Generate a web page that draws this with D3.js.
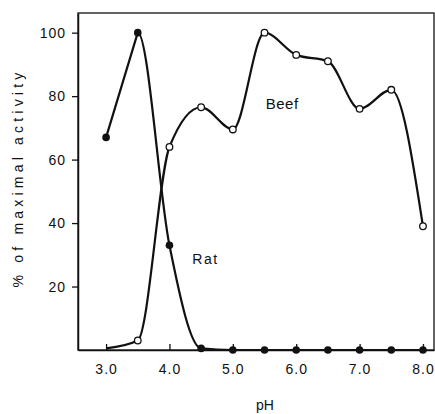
<!DOCTYPE html>
<html>
<head>
<meta charset="utf-8">
<script src="https://cdn.jsdelivr.net/npm/d3@7"></script>
<style>
  body { margin: 0; background: #fff; }
  text { font-family: "Liberation Sans", Arial, sans-serif; fill: #111; }
</style>
</head>
<body>
<div id="chart"></div>
<script>
// pH values measured
var phValues = [3.0, 3.5, 4.0, 4.5, 5.0, 5.5, 6.0, 6.5, 7.0, 7.5, 8.0];
// % of maximal activity
var ratActivity = [67, 100, 33, 0.5, 0, 0, 0, 0, 0, 0, 0];
var beefActivity = [0.5, 3, 64, 76.5, 69.5, 100, 93, 91, 76, 82, 39];
// axis ticks
var xTicks = [3.0, 4.0, 5.0, 6.0, 7.0, 8.0];
var yTicks = [20, 40, 60, 80, 100];

var svgWidth = 435;
var svgHeight = 414;
var margin = { top: 13, right: 1, bottom: 64, left: 78 };
var width = svgWidth - margin.left - margin.right;
var height = svgHeight - margin.top - margin.bottom;

var svg = d3.select("#chart")
  .append("svg")
  .attr("width", svgWidth)
  .attr("height", svgHeight);

var chartGroup = svg.append("g")
  .attr("transform", `translate(${margin.left}, ${margin.top})`);

var xScale = d3.scaleLinear()
  .domain([2.557, 8.174])
  .range([0, width]);

var yScale = d3.scaleLinear()
  .domain([0, 106.2])
  .range([height, 0]);

// frame
chartGroup.append("rect")
  .attr("width", width)
  .attr("height", height)
  .attr("fill", "none")
  .attr("stroke", "#111")
  .attr("stroke-width", 1.3);

// x axis, ticks point inward
var bottomAxis = d3.axisBottom(xScale)
  .tickValues(xTicks)
  .tickFormat(d3.format(".1f"))
  .tickSizeInner(-6)
  .tickSizeOuter(0)
  .tickPadding(14);

var xAxis = chartGroup.append("g")
  .attr("transform", `translate(0, ${height})`)
  .call(bottomAxis);

// y axis, ticks point outward
var leftAxis = d3.axisLeft(yScale)
  .tickValues(yTicks)
  .tickSizeInner(6)
  .tickSizeOuter(0)
  .tickPadding(6);

var yAxis = chartGroup.append("g")
  .call(leftAxis);

[xAxis, yAxis].forEach(function(ax) {
  ax.select(".domain").attr("stroke", "#111").attr("stroke-width", 1.5);
  ax.selectAll(".tick line").attr("stroke", "#111").attr("stroke-width", 1.3);
  ax.selectAll(".tick text")
    .attr("font-family", "'Liberation Sans', Arial, sans-serif")
    .attr("font-size", "14px")
    .attr("letter-spacing", "1px")
    .attr("fill", "#111");
});

// curves
var ratData = phValues.map((p, i) => ({ ph: p, v: ratActivity[i] }));
var beefData = phValues.map((p, i) => ({ ph: p, v: beefActivity[i] }));

var smooth = d3.line()
  .x(d => xScale(d.ph))
  .y(d => yScale(d.v))
  .curve(d3.curveMonotoneX);

var straight = d3.line()
  .x(d => xScale(d.ph))
  .y(d => yScale(d.v));

// rat: straight rise to the peak, smooth fall after it
chartGroup.append("clipPath")
  .attr("id", "afterPeak")
  .append("rect")
  .attr("x", xScale(3.5))
  .attr("y", -10)
  .attr("width", width)
  .attr("height", height + 20);

chartGroup.append("path")
  .datum(ratData.slice(0, 2))
  .attr("d", straight)
  .attr("fill", "none")
  .attr("stroke", "#111")
  .attr("stroke-width", 2.2)
  .attr("stroke-linecap", "round");

chartGroup.append("path")
  .datum(ratData)
  .attr("d", smooth)
  .attr("clip-path", "url(#afterPeak)")
  .attr("fill", "none")
  .attr("stroke", "#111")
  .attr("stroke-width", 2.2);

chartGroup.append("path")
  .datum(beefData)
  .attr("d", smooth)
  .attr("fill", "none")
  .attr("stroke", "#111")
  .attr("stroke-width", 2.2);

// markers
chartGroup.selectAll(".ratDot")
  .data(ratData)
  .enter()
  .append("circle")
  .attr("class", "ratDot")
  .attr("cx", d => xScale(d.ph))
  .attr("cy", d => yScale(d.v))
  .attr("r", 3.8)
  .attr("fill", "#111");

chartGroup.selectAll(".beefDot")
  .data(beefData.filter(d => d.ph > 3.0))
  .enter()
  .append("circle")
  .attr("class", "beefDot")
  .attr("cx", d => xScale(d.ph))
  .attr("cy", d => yScale(d.v))
  .attr("r", 3.3)
  .attr("fill", "#fff")
  .attr("stroke", "#111")
  .attr("stroke-width", 1.3);

// series labels
chartGroup.append("text")
  .attr("x", xScale(5.55) - 2)
  .attr("y", yScale(76))
  .attr("font-size", "15px")
  .attr("letter-spacing", "0.5px")
  .text("Beef");

chartGroup.append("text")
  .attr("x", xScale(4.36))
  .attr("y", yScale(27))
  .attr("font-size", "14px")
  .attr("letter-spacing", "1.5px")
  .text("Rat");

// axis labels
svg.append("text")
  .attr("x", 265)
  .attr("y", 410)
  .attr("text-anchor", "middle")
  .attr("font-size", "14px")
  .text("pH");

svg.append("text")
  .attr("transform", "translate(23, 178) rotate(-90)")
  .attr("text-anchor", "middle")
  .attr("font-size", "14px")
  .attr("letter-spacing", "4.2px")
  .text("% of maximal activity");
</script>
</body>
</html>
